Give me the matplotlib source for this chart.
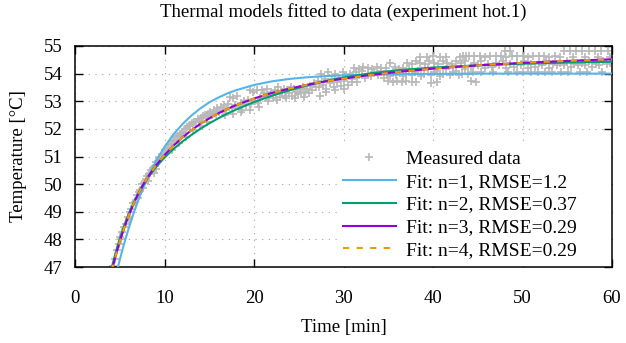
import matplotlib
matplotlib.use('Agg')
import matplotlib.pyplot as plt
from matplotlib.patches import Rectangle

plt.rcParams['font.family'] = ['Liberation Serif', 'DejaVu Serif']

meas_time = [
    # 4-10 min
    4.3, 4.5, 4.7, 4.9, 5.1, 5.3, 5.5, 5.7, 5.9, 6.1, 6.3, 6.5, 6.7, 6.9, 7.1,
    7.3, 7.5, 7.7, 7.9, 8.1, 8.3, 8.5, 8.7, 8.9, 9.1, 9.3, 9.5, 9.7, 9.9,
    5.0, 6.0, 7.0, 7.6, 8.2, 8.8, 9.4, 9.0,
    # 10-15 min
    10.1, 10.3, 10.5, 10.7, 10.9, 11.1, 11.3, 11.5, 11.7, 11.9, 12.1, 12.3, 12.5,
    12.7, 12.9, 13.1, 13.3, 13.5, 13.7, 13.9, 14.1, 14.3, 14.5, 14.7, 14.9,
    10.8, 11.6, 12.4, 13.2, 14.0, 14.8,
    # 15-21 min
    15.1, 15.3, 15.5, 15.7, 15.9, 16.1, 16.3, 16.5, 16.7, 16.9, 17.1, 17.3, 17.5,
    17.7, 17.9, 18.1, 18.3, 18.5, 18.7, 18.9, 19.1, 19.3, 19.5, 19.7, 19.9, 20.1,
    20.3, 20.5, 20.7, 20.9,
    17.6, 18.6, 19.6, 20.6, 16.8,
    # 21-27 min
    21.1, 21.3, 21.5, 21.7, 21.9, 22.1, 22.3, 22.5, 22.7, 22.9, 23.1, 23.3, 23.5,
    23.7, 23.9, 24.1, 24.3, 24.5, 24.7, 24.9, 25.1, 25.3, 25.5, 25.7, 25.9, 26.1,
    26.3, 26.5, 26.7, 26.9,
    21.6, 22.6, 23.6, 24.6, 25.6,
    # 27-31 min
    27.1, 27.3, 27.5, 27.7, 27.9, 28.1, 28.3, 28.5, 28.7, 28.9, 29.1, 29.3, 29.5,
    29.7, 29.9, 30.1, 30.3, 30.5, 30.7, 30.9,
    27.4, 28.0, 29.0, 30.0,
    # 31-44 min
    31.2, 31.7, 32.2, 32.7, 33.2, 33.7, 34.2, 34.7, 35.2, 35.7, 36.2, 36.7,
    37.1, 37.6, 38.1, 38.6, 39.1, 39.6, 40.1, 40.6, 41.1, 41.6, 42.1, 42.6, 43.1, 43.6,
    38.6, 39.3, 40.0, 40.8, 41.4, 43.0, 43.7,
    31.0, 31.35, 31.7, 32.05, 32.4, 32.75, 33.1, 33.45, 33.8, 34.15, 34.5, 34.85,
    35.2, 35.55, 35.9, 36.25, 36.6, 36.95, 37.3, 37.65, 38.0, 38.35, 38.7, 39.05,
    39.4, 39.75, 40.1, 40.45, 40.8, 41.15, 41.5, 41.85, 42.2, 42.55, 42.9, 43.25,
    43.6, 43.95,
    31.0, 31.5, 35.0, 35.5, 36.0, 36.5, 37.0, 37.6, 38.1, 39.8, 40.4, 44.2, 44.8,
    # 44-60 min
    48.0, 48.6, 54.6, 55.3, 56.0, 56.7, 57.4, 58.1, 58.8, 59.5,
    43.4, 44.0, 44.6, 45.2, 45.8, 46.4, 47.0, 47.6, 48.2, 48.8, 49.4, 50.0, 50.6,
    51.2, 51.8, 52.4, 53.0, 53.6,
    54.2, 55.6, 57.0, 58.4, 59.8,
    44.2, 44.6, 45.0, 45.4, 45.8, 46.2, 46.6, 47.0, 47.4, 47.8, 48.2, 48.6, 49.0,
    49.4, 49.8, 50.2, 50.6, 51.0, 51.4, 51.8, 52.2, 52.6, 53.0, 53.4, 53.8, 54.2,
    54.6, 55.0, 55.4, 55.8, 56.2, 56.6, 57.0, 57.4, 57.8, 58.2, 58.6, 59.0, 59.4, 59.8,
    44.5, 45.4, 46.7, 48.4, 49.4, 50.1, 50.9, 51.7, 52.5, 53.3, 54.3, 55.1, 56.4,
    57.2, 58.9,
]
meas_temp = [
    47.05, 47.3, 47.6, 47.85, 48.0, 48.25, 48.45, 48.55, 48.8, 49.0, 49.1, 49.3,
    49.35, 49.6, 49.7, 49.8, 50.0, 50.05, 50.2, 50.3, 50.35, 50.5, 50.6, 50.65,
    50.8, 50.85, 50.95, 51.05, 51.1,
    48.1, 48.75, 49.5, 49.85, 50.1, 50.4, 51.0, 50.55,
    51.25, 51.3, 51.4, 51.45, 51.55, 51.6, 51.7, 51.75, 51.8, 51.85, 51.9, 52.0,
    52.05, 52.1, 52.15, 52.2, 52.25, 52.25, 52.35, 52.3, 52.4, 52.45, 52.5, 52.45, 52.55,
    51.25, 51.5, 51.7, 51.95, 52.1, 52.25,
    52.6, 52.5, 52.7, 52.55, 52.75, 52.6, 52.8, 52.65, 52.85, 52.7, 52.9, 53.15,
    52.75, 53.1, 52.85, 53.2, 52.8, 52.95, 52.7, 53.0, 52.85, 53.05, 53.4, 52.9,
    53.35, 53.0, 53.4, 52.95, 53.1, 53.4,
    52.55, 52.6, 52.7, 52.8, 52.5,
    53.3, 53.15, 53.45, 53.2, 53.35, 53.1, 53.4, 53.25, 53.5, 53.15, 53.35, 53.45,
    53.2, 53.4, 53.3, 53.5, 53.2, 53.45, 53.35, 53.25, 53.45, 53.3, 53.5, 53.35,
    53.45, 53.3, 53.55, 53.4, 53.65, 53.5,
    53.0, 53.05, 53.1, 53.1, 53.15,
    53.75, 53.5, 54.0, 53.6, 53.8, 53.45, 54.05, 53.65, 53.8, 53.5, 54.0, 53.7,
    53.85, 53.55, 54.05, 53.75, 53.9, 53.6, 54.0, 53.8,
    53.2, 53.35, 53.4, 53.45,
    54.2, 54.15, 54.25, 54.2, 54.15, 54.25, 54.2, 54.2, 54.4, 54.25, 54.15, 54.2,
    54.4, 54.35, 54.45, 54.4, 54.35, 54.45, 54.4, 54.35, 54.45, 54.4, 54.35, 54.45,
    54.4, 54.45,
    54.6, 54.6, 54.65, 54.6, 54.6, 54.6, 54.65,
    53.9, 54.05, 53.95, 54.1, 53.85, 54.0, 53.9, 54.05, 53.95, 54.1, 53.85, 54.0,
    53.9, 54.05, 53.95, 54.1, 53.9, 54.0, 54.15, 53.95, 54.05, 54.1, 53.9, 54.0,
    54.15, 53.95, 54.05, 54.1, 53.9, 54.0, 54.15, 53.95, 54.05, 54.1, 53.95, 54.0,
    54.15, 54.0,
    53.7, 53.7, 53.75, 53.7, 53.75, 53.7, 53.75, 53.7, 53.7, 53.65, 53.7, 53.75, 53.7,
    54.82, 54.82, 54.82, 54.82, 54.82, 54.82, 54.82, 54.82, 54.82, 54.82,
    54.62, 54.62, 54.65, 54.62, 54.6, 54.62, 54.65, 54.62, 54.6, 54.62, 54.65,
    54.62, 54.6, 54.62, 54.65, 54.62, 54.6, 54.62,
    54.6, 54.6, 54.6, 54.6, 54.6,
    54.25, 54.4, 54.3, 54.45, 54.2, 54.35, 54.25, 54.4, 54.3, 54.45, 54.2, 54.35,
    54.25, 54.4, 54.3, 54.45, 54.2, 54.35, 54.25, 54.4, 54.3, 54.45, 54.2, 54.35,
    54.3, 54.4, 54.3, 54.45, 54.25, 54.35, 54.3, 54.4, 54.3, 54.45, 54.25, 54.35,
    54.3, 54.45, 54.35, 54.4,
    54.05, 54.05, 54.05, 54.05, 54.05, 54.05, 54.05, 54.05, 54.05, 54.05, 54.05,
    54.05, 54.05, 54.05, 54.05,
]

# Fitted model curves
fit_time = [3.8, 4.0, 4.25, 4.5, 4.75, 5.0, 5.5, 6.0, 6.5, 7.0, 7.5, 8.0, 9.0, 10,
            11, 12, 13, 14, 15, 16, 17, 18, 20, 22, 24, 26, 28, 30, 33, 36, 40,
            45, 50, 55, 60]
fit_n1 = [45.56, 45.87, 46.24, 46.60, 46.93, 47.26, 47.86, 48.40, 48.90, 49.36,
          49.77, 50.15, 50.80, 51.35, 51.80, 52.17, 52.48, 52.74, 52.96, 53.13,
          53.28, 53.40, 53.59, 53.72, 53.81, 53.87, 53.91, 53.94, 53.96, 53.98,
          53.99, 54.0, 54.0, 54.0, 54.0]
fit_n2 = [46.55, 46.85, 47.16, 47.47, 47.75, 48.02, 48.5, 48.92, 49.29, 49.62,
          49.91, 50.17, 50.6, 50.96, 51.27, 51.54, 51.78, 52.0, 52.2, 52.38,
          52.55, 52.7, 52.97, 53.2, 53.4, 53.58, 53.73, 53.86, 54.01, 54.12,
          54.22, 54.3, 54.36, 54.4, 54.43]
fit_n3 = [46.38, 46.7, 47.03, 47.35, 47.64, 47.92, 48.42, 48.86, 49.25, 49.6,
          49.91, 50.19, 50.66, 51.05, 51.39, 51.69, 51.95, 52.18, 52.38, 52.56,
          52.72, 52.86, 53.1, 53.3, 53.46, 53.6, 53.72, 53.82, 53.95, 54.06,
          54.18, 54.3, 54.39, 54.46, 54.52]
fit_n4 = [46.39, 46.71, 47.04, 47.35, 47.64, 47.92, 48.42, 48.86, 49.25, 49.6,
          49.91, 50.19, 50.66, 51.05, 51.39, 51.69, 51.95, 52.18, 52.38, 52.56,
          52.72, 52.86, 53.1, 53.3, 53.46, 53.6, 53.72, 53.82, 53.95, 54.06,
          54.18, 54.3, 54.39, 54.46, 54.52]

labels = ['Measured data', 'Fit: n=1, RMSE=1.2', 'Fit: n=2, RMSE=0.37',
          'Fit: n=3, RMSE=0.29', 'Fit: n=4, RMSE=0.29']

fig = plt.figure(figsize=(6.26, 3.43), dpi=100)
ax = fig.add_axes([75 / 626, 1 - 267 / 343, 537 / 626, 221 / 343])

ax.set_axisbelow(True)
ax.grid(True, color='#a0a0a0', linestyle=(0, (1, 5)), linewidth=0.8)

# white box behind the key hides the grid there
ax.add_patch(Rectangle((0.488, 0.0), 0.512, 0.561, transform=ax.transAxes,
                       facecolor='white', edgecolor='none', zorder=1))

ax.plot(meas_time, meas_temp, linestyle='none', marker='+', markersize=6,
        markeredgewidth=1.2, color='#b8b8b8', label=labels[0], zorder=2)
ax.plot(fit_time, fit_n1, color='#56b4e9', linewidth=1.5, label=labels[1], zorder=3)
ax.plot(fit_time, fit_n2, color='#009e73', linewidth=1.5, label=labels[2], zorder=3)
ax.plot(fit_time, fit_n3, color='#9400d3', linewidth=1.5, label=labels[3], zorder=3)
ax.plot(fit_time, fit_n4, color='#e69f00', linewidth=1.5, linestyle=(0, (3, 3.5)),
        label=labels[4], zorder=3)

ax.set_xlim(0, 60)
ax.set_ylim(47, 55)
ax.set_xticks(range(0, 61, 10))
ax.set_yticks(range(47, 56))
ax.tick_params(direction='in', length=5.5, width=1.0, top=True, right=True,
               labelsize=13.5)
ax.tick_params(axis='x', pad=16.5)
ax.tick_params(axis='y', pad=9)
for sp in ax.spines.values():
    sp.set_linewidth(1.1)

ax.set_xlabel('Time [min]', fontsize=13.5, labelpad=9)
ax.set_ylabel('Temperature [°C]', fontsize=13.5, labelpad=12)
ax.set_title('Thermal models fitted to data (experiment hot.1)', fontsize=13.5, pad=21)

ax.legend(loc='lower left', bbox_to_anchor=((343 - 75) / 537, 0.035), frameon=False,
          fontsize=14, handlelength=2.7, handletextpad=0.55, borderpad=0,
          borderaxespad=0, labelspacing=0.27, numpoints=1)

fig.savefig('out.png', dpi=100)
